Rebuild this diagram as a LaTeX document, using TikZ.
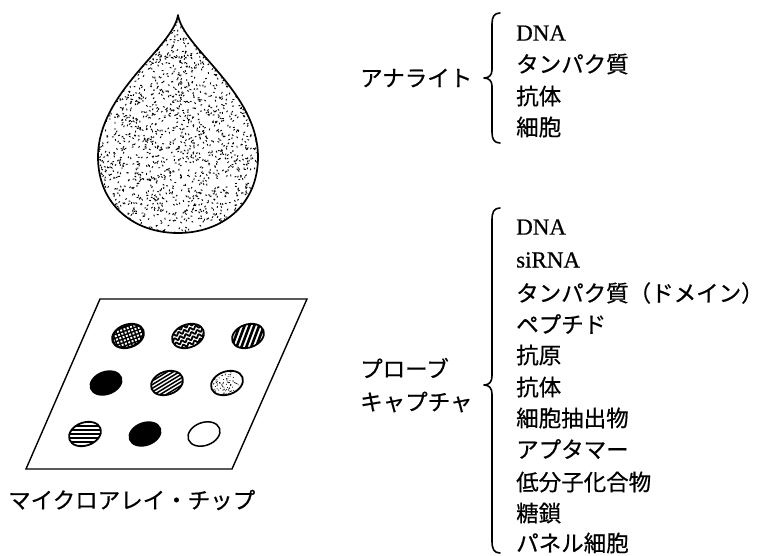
\documentclass[tikz,border=0pt]{standalone}
\usepackage{fontspec}
\setmainfont[FakeBold=0.5]{Liberation Serif}
\newfontfamily\jp[FakeBold=0.6]{Noto Sans CJK JP}
\begin{document}
\begin{tikzpicture}[x=1pt,y=-1pt,
  jptext/.style={font=\jp\fontsize{22.5}{24}\selectfont, anchor=west, inner sep=0pt},
  latin/.style={font=\fontsize{23}{24}\selectfont, anchor=west, inner sep=0pt},
  bracestroke/.style={line width=1.6pt, line cap=round, line join=round},
  chip/.style={line width=1.4pt, line join=miter},
  spotline/.style={line width=1.8pt},
  spotsize/.style={x radius=16.5, y radius=11.5}]
\useasboundingbox (0,0) rectangle (763,555);

% ---------- sample droplet with stippled content ----------
\def\droppath{(178,15) .. controls (183,48) and (258,92) .. (258,157)
  .. controls (258,205) and (222,233) .. (178,233)
  .. controls (134,233) and (98,205) .. (98,157)
  .. controls (98,92) and (173,48) .. (178,15) -- cycle}
\begin{scope}
  \clip \droppath;
  \pgfmathsetseed{11}
  \foreach \i in {1,...,2000}{
    \pgfmathsetmacro\px{98+160*rnd}
    \pgfmathsetmacro\py{15+218*rnd}
    \pgfmathsetmacro\pa{180*rnd}
    \fill[rotate around={\pa:(\px,\py)}] (\px-0.9,\py-0.45) rectangle (\px+0.9,\py+0.45);
  }
\end{scope}
\draw[line width=1.7pt, line join=round] \droppath;

% ---------- microarray chip ----------
\coordinate (tl) at (100,299);
\coordinate (tr) at (307,299);
\coordinate (br) at (232,469);
\coordinate (bl) at (26,469);
\draw[chip] (tl) -- (tr) -- (br) -- (bl) -- cycle;

% row 1: grid spot
\begin{scope}[shift={(128,336)}, rotate=20]
  \fill (0,0) ellipse[spotsize];
  \begin{scope}
    \clip (0,0) ellipse[x radius=15, y radius=10];
    \foreach \u in {-16,-12.5,...,16}
      \foreach \v in {-12,-8.5,...,12}
        \fill[white] (\u,\v) rectangle +(1.9,1.9);
  \end{scope}
  \draw[spotline] (0,0) ellipse[spotsize];
\end{scope}

% row 1: wavy spot
\begin{scope}[shift={(188,336)}, rotate=20]
  \begin{scope}
    \clip (0,0) ellipse[spotsize];
    \foreach \k in {-10,-5.5,...,12}
      \draw[line width=1.8pt] plot[domain=-18:18, samples=60, smooth] (\x,{\k+1.4*sin(\x*60)});
  \end{scope}
  \draw[spotline] (0,0) ellipse[spotsize];
\end{scope}

% row 1: steep stripes
\begin{scope}[shift={(248,336)}, rotate=20]
  \begin{scope}
    \clip (0,0) ellipse[spotsize];
    \foreach \k in {-33,-27,...,33}
      \draw[line width=2.6pt] (\k-12,14) -- (\k+12,-14);
  \end{scope}
  \draw[spotline] (0,0) ellipse[spotsize];
\end{scope}

% row 2: solid spot
\begin{scope}[shift={(106,383)}, rotate=20]
  \fill (0,0) ellipse[x radius=17, y radius=12];
\end{scope}

% row 2: shallow stripes
\begin{scope}[shift={(167,383)}, rotate=20]
  \begin{scope}
    \clip (0,0) ellipse[spotsize];
    \foreach \k in {-16,-12.8,...,18}
      \draw[line width=1.5pt] (-20,\k+4) -- (20,\k-4);
  \end{scope}
  \draw[spotline] (0,0) ellipse[spotsize];
\end{scope}

% row 2: dotted spot
\begin{scope}[shift={(227,383)}, rotate=20]
  \begin{scope}
    \clip (0,0) ellipse[spotsize];
    \pgfmathsetseed{5}
    \foreach \i in {1,...,100}{
      \pgfmathsetmacro\px{-17+27*rnd}
      \pgfmathsetmacro\py{-9+21*rnd}
      \fill (\px,\py) circle[radius=0.55];
    }
  \end{scope}
  \draw[spotline] (0,0) ellipse[spotsize];
\end{scope}

% row 3: horizontal stripes
\begin{scope}[shift={(85,434)}, rotate=20]
  \begin{scope}
    \clip (0,0) ellipse[spotsize];
    \begin{scope}[rotate=-20]
      \foreach \k in {-12,-8,...,12}
        \draw[line width=1.7pt] (-22,\k) -- (22,\k);
    \end{scope}
  \end{scope}
  \draw[spotline] (0,0) ellipse[spotsize];
\end{scope}

% row 3: solid spot
\begin{scope}[shift={(145,434)}, rotate=20]
  \fill (0,0) ellipse[x radius=17, y radius=12];
\end{scope}

% row 3: empty spot
\begin{scope}[shift={(204,434)}, rotate=20]
  \draw[line width=1.5pt] (0,0) ellipse[spotsize];
\end{scope}

\node[jptext] (chiplabel) at (8,500) {マイクロアレイ・チップ};

% ---------- analytes ----------
\node[jptext] (analyte) at (360,78) {アナライト};
\draw[bracestroke] (500,13) .. controls (494,13) and (492,17) .. (492,24) -- (492,70)
  .. controls (492,75) and (489,78) .. (484,78)
  .. controls (489,78) and (492,81) .. (492,86) -- (492,132)
  .. controls (492,139) and (494,143) .. (500,143);
\node[latin]  (a1) at (516,33)  {DNA};
\node[jptext] (a2) at (516,64)  {タンパク質};
\node[jptext] (a3) at (516,96)  {抗体};
\node[jptext] (a4) at (516,127) {細胞};

% ---------- capture probes ----------
\node[jptext] (probeA) at (360,368) {プローブ};
\node[jptext] (probeB) at (360,402) {キャプチャ};
\draw[bracestroke] (500,208) .. controls (494,208) and (492,212) .. (492,220) -- (492,376)
  .. controls (492,382) and (489,385) .. (484,385)
  .. controls (489,385) and (492,388) .. (492,394) -- (492,541)
  .. controls (492,549) and (494,553) .. (500,553);
\node[latin]  (p1)  at (516,227) {DNA};
\node[latin]  (p2)  at (516,260) {siRNA};
\node[jptext] (p3)  at (516,293) {タンパク質（ドメイン）};
\node[jptext] (p4)  at (516,324) {ペプチド};
\node[jptext] (p5)  at (516,355) {抗原};
\node[jptext] (p6)  at (516,387) {抗体};
\node[jptext] (p7)  at (516,418) {細胞抽出物};
\node[jptext] (p8)  at (516,449) {アプタマー};
\node[jptext] (p9)  at (516,482) {低分子化合物};
\node[jptext] (p10) at (516,513) {糖鎖};
\node[jptext] (p11) at (516,543) {パネル細胞};
\end{tikzpicture}
\end{document}
